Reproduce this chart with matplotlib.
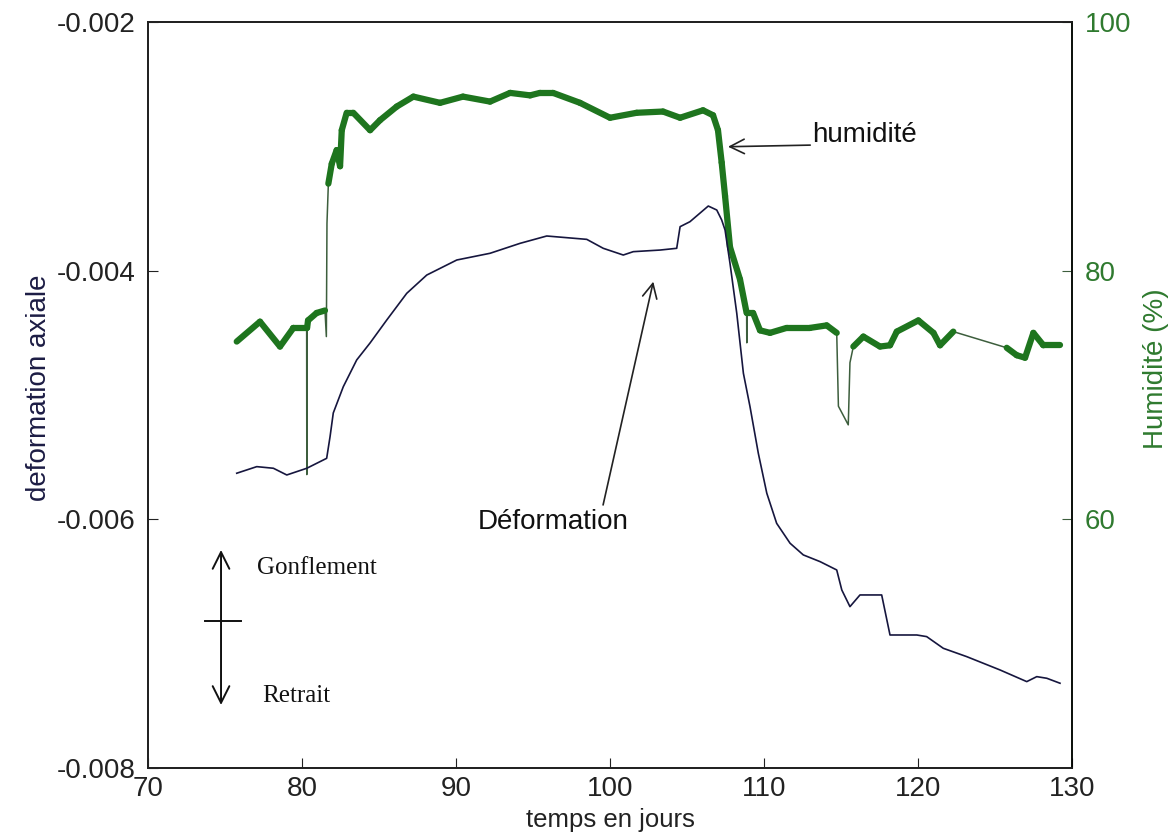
import numpy as np
import matplotlib
matplotlib.use("Agg")
import matplotlib.pyplot as plt
from matplotlib.collections import LineCollection

# ---------------- data ----------------
def_days = [75.76, 77.06, 78.14, 79.01, 80.31, 81.60, 81.82, 82.03, 82.68, 83.55,
            84.42, 85.50, 86.80, 88.10, 90.05, 92.21, 94.16, 95.89, 98.49, 99.56,
            100.86, 101.51, 103.25, 104.33, 104.55, 105.19, 106.38, 106.93, 107.25,
            107.47, 107.79, 108.23, 108.66, 109.09, 109.63, 110.18, 110.82, 111.69,
            112.55, 113.64, 114.72, 115.05, 115.58, 116.23, 117.64, 118.18, 119.92,
            120.56, 121.64, 123.16, 125.32, 127.06, 127.71, 128.36, 129.22]
def_vals = [-0.005629, -0.005576, -0.005589, -0.005643, -0.005589, -0.005509,
            -0.005335, -0.005144, -0.004933, -0.004718, -0.004581, -0.004397,
            -0.004182, -0.004035, -0.003914, -0.003860, -0.003780, -0.003721,
            -0.003748, -0.003820, -0.003874, -0.003847, -0.003834, -0.003820,
            -0.003646, -0.003606, -0.003480, -0.003512, -0.003592, -0.003673,
            -0.003941, -0.004343, -0.004825, -0.005094, -0.005469, -0.005790,
            -0.006032, -0.006192, -0.006286, -0.006340, -0.006407, -0.006568,
            -0.006702, -0.006608, -0.006608, -0.006930, -0.006930, -0.006943,
            -0.007037, -0.007104, -0.007211, -0.007305, -0.007265, -0.007278,
            -0.007318]

hum_days = [75.76, 77.27, 78.57, 79.44, 80.30, 80.31, 80.33, 80.39, 80.95, 81.49,
            81.58, 81.62, 81.71, 81.93, 82.25, 82.47, 82.58, 82.90, 83.33, 84.42,
            85.06, 86.15, 87.23, 88.96, 90.45, 92.21, 93.51, 94.81, 95.45, 96.30,
            98.05, 100.00, 101.73, 103.44, 104.55, 106.04, 106.69, 107.01, 107.25,
            107.47, 107.79, 108.44, 108.87, 108.88, 108.90, 109.29, 109.74, 110.39,
            111.47, 112.99, 114.07, 114.72, 114.83, 115.47, 115.58, 115.80, 116.45,
            117.53, 118.18, 118.62, 120.02, 121.00, 121.43, 122.29, 125.76, 126.41,
            126.95, 127.49, 128.14, 129.22]
hum_vals = [74.3, 75.9, 73.9, 75.4, 75.4, 63.6, 75.4, 76.0, 76.6, 76.8,
            74.7, 83.8, 87.0, 88.6, 89.7, 88.4, 91.3, 92.7, 92.7, 91.3,
            92.1, 93.2, 94.0, 93.5, 94.0, 93.6, 94.3, 94.1, 94.3, 94.3,
            93.5, 92.3, 92.7, 92.8, 92.3, 92.9, 92.5, 91.3, 88.7,
            86.0, 81.9, 79.3, 76.6, 74.2, 76.6, 76.6, 75.2, 75.0,
            75.4, 75.4, 75.6, 75.0, 69.1, 67.6, 72.6, 73.9, 74.7,
            73.9, 74.0, 75.1, 76.0, 75.0, 74.0, 75.1, 73.8, 73.2,
            73.0, 75.0, 74.0, 74.0]
# indices of isolated spikes drawn as thin lines (not part of the noisy band)
spike_idx = [5, 10, 11, 43, 52, 53, 54]

x_ticks = [70, 80, 90, 100, 110, 120, 130]
left_ticks = [-0.008, -0.006, -0.004, -0.002]
left_ticklabels = ["-0.008", "-0.006", "-0.004", "-0.002"]
right_ticks = [60, 80, 100]

# ---------------- style ----------------
plt.rcParams['font.family'] = ['Liberation Sans', 'DejaVu Sans']
DEF_COLOR = '#16163e'
GREEN = '#1e751e'
GREEN_THIN = '#3d5e3d'
GREEN_TXT = '#2f7a2f'

fig = plt.figure(figsize=(11.72, 8.34), dpi=100)
ax1 = fig.add_axes([0.1263, 0.0791, 0.7884, 0.8945])
ax2 = ax1.twinx()

# humidity: thin full line + thick noisy band
hx = np.array(hum_days)
hy = np.array(hum_vals)
ax2.plot(hx, hy, color=GREEN_THIN, lw=1.1, zorder=2)
segs = []
for i in range(len(hx) - 1):
    if i in spike_idx or (i + 1) in spike_idx:
        continue
    if hx[i + 1] - hx[i] > 2:
        continue
    segs.append([(hx[i], hy[i]), (hx[i + 1], hy[i + 1])])
lc = LineCollection(segs, colors=GREEN, linewidths=4.5, capstyle='round',
                    joinstyle='round', zorder=3)
ax2.add_collection(lc)

# deformation
ax1.plot(def_days, def_vals, color=DEF_COLOR, lw=1.2, zorder=4)
ax1.set_zorder(ax2.get_zorder() + 1)
ax1.patch.set_visible(False)

# axes
ax1.set_xlim(70, 130)
ax1.set_ylim(-0.008, -0.002)
ax2.set_ylim(40, 100)
ax1.set_xticks(x_ticks)
ax1.set_yticks(left_ticks)
ax1.set_yticklabels(left_ticklabels)
ax2.set_yticks(right_ticks)

fs = 20
ax1.tick_params(axis='both', direction='in', length=7, labelsize=fs, colors='#222222')
ax1.tick_params(axis='y', pad=9)
ax1.tick_params(axis='x', pad=6)
ax2.tick_params(axis='y', direction='in', length=7, labelsize=fs, pad=9,
                colors='#3d5e3d', labelcolor=GREEN_TXT)
for s in ['left', 'bottom', 'top']:
    ax1.spines[s].set_color('#222222')
ax2.spines['right'].set_color('#3d5e3d')
for s in ax2.spines.values():
    s.set_linewidth(1.2)
for s in ax1.spines.values():
    s.set_linewidth(1.2)

ax1.set_xlabel('temps en jours', fontsize=18.5, color='#222222', labelpad=4)
ax1.set_ylabel('deformation axiale', fontsize=fs, color='#1c1c44')
ax1.yaxis.set_label_coords(-0.126 + 20 / 924, 0.51)
ax2.set_ylabel('Humidité (%)', fontsize=fs, color=GREEN_TXT)
ax2.yaxis.set_label_coords(1.0 + 71 / 924, 0.535)

# annotations
ax1.annotate('', xy=(107.66, -0.003003), xytext=(113.0, -0.002990),
             arrowprops=dict(arrowstyle='->', color='#222222', lw=1.2,
                             mutation_scale=26, shrinkA=0, shrinkB=0))
ax1.text(113.1, -0.002905, 'humidité', fontsize=fs, color='#111111',
         va='center', ha='left')

ax1.annotate('', xy=(102.81, -0.004088), xytext=(99.55, -0.005884),
             arrowprops=dict(arrowstyle='->', color='#222222', lw=1.2,
                             mutation_scale=26, shrinkA=0, shrinkB=0))
ax1.text(96.3, -0.006021, 'Déformation', fontsize=fs, color='#111111',
         va='center', ha='center')

ax1.annotate('', xy=(74.74, -0.006246), xytext=(74.74, -0.007493),
             arrowprops=dict(arrowstyle='<->', color='#111111', lw=1.4,
                             mutation_scale=30, shrinkA=0, shrinkB=0))
ax1.plot([73.70, 76.04], [-0.006817, -0.006817], color='#111111', lw=1.4)
ax1.text(77.1, -0.006395, 'Gonflement', fontsize=18, family='Liberation Serif',
         color='#111111', va='center', ha='left')
ax1.text(77.4, -0.007420, 'Retrait', fontsize=18, family='Liberation Serif',
         color='#111111', va='center', ha='left')

fig.savefig('out.png', dpi=100)
